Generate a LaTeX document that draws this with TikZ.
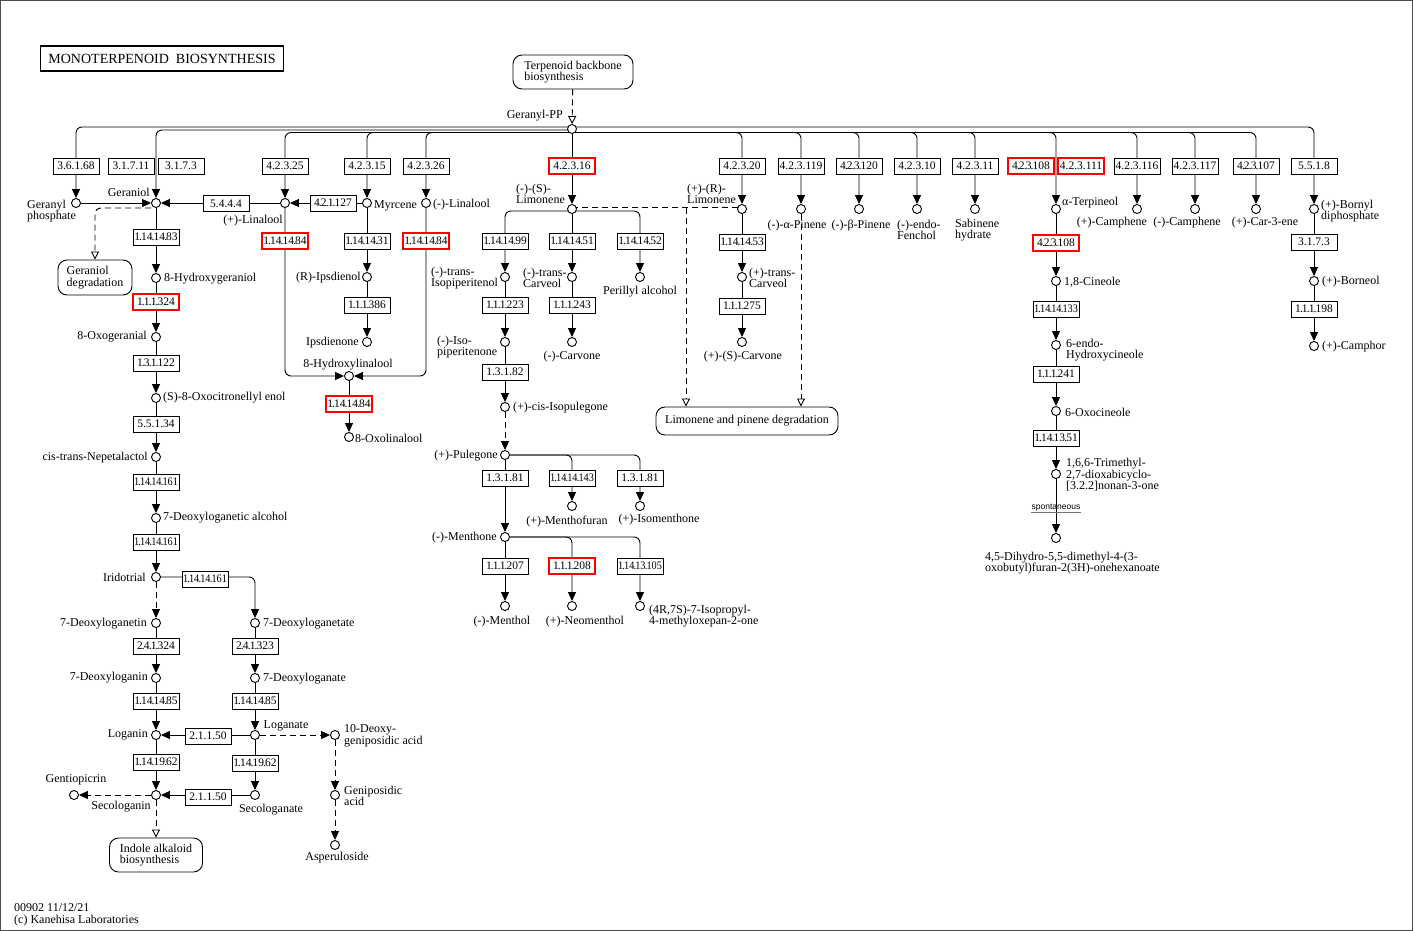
\documentclass[tikz,border=0pt]{standalone}
\usepackage{fontspec}
\usepackage{graphicx}
\setmainfont{Liberation Serif}
\setsansfont{Liberation Sans}
\usetikzlibrary{arrows.meta,calc}
\pgfdeclarelayer{bg}
\pgfsetlayers{bg,main}
\newsavebox\ecsave
\newcommand\ecdot{\kern-0.9pt.\kern-0.9pt}
\def\ecparse#1{\ifx#1\relax\else\ifx#1.\ecdot\else#1\fi\expandafter\ecparse\fi}
\newcommand\ectext[1]{\sbox\ecsave{#1}\ifdim\wd\ecsave>43pt\sbox\ecsave{\ecparse#1\relax}\fi\ifdim\wd\ecsave>44pt\pgfmathsetmacro\ecfac{44pt/\wd\ecsave}\scalebox{\ecfac}[1]{\usebox\ecsave}\else\usebox\ecsave\fi}
\newcommand\lf{\fontsize{12}{11.5}\selectfont}
\newcommand\ec[4]{\node[ecb] (#1) at (#2) {\ectext{#3}};}
\newcommand\ecr[3]{\node[ecb,draw=red,line width=1.8pt] (#1) at (#2) {\ectext{#3}};}
\tikzset{
  cpd/.style={circle,draw,fill=white,minimum size=9pt,inner sep=0pt,line width=0.9pt},
  ecb/.style={draw,fill=white,minimum width=46pt,minimum height=16pt,inner sep=0pt,line width=0.9pt,font=\fontsize{11.5}{12}\selectfont},
  lbl/.style={font=\lf,inner sep=0pt,align=left},
  rbox/.style={draw,fill=white,rounded corners=9pt,line width=0.9pt,inner sep=0pt,align=left,font=\lf},
  ln/.style={line width=0.9pt},
  rc/.style={rounded corners=6pt},
  dsh/.style={ln,dash pattern=on 6pt off 4pt},
  arr/.style={ln,-{Triangle[length=9pt,width=8pt]}},
  darr/.style={arr,dash pattern=on 6pt off 4pt},
  oarr/.style={dsh,-{Triangle[open,length=8pt,width=8pt]}},
}
\begin{document}
\begin{tikzpicture}[x=1pt,y=-1pt]
\useasboundingbox (0,0) rectangle (1413,931);
\draw[black!70,line width=0.9pt] (0.5,0.5) rectangle (1412.5,930.5);
% title
\node[draw,line width=1.8pt,minimum width=243pt,minimum height=25pt,inner sep=0pt,font=\fontsize{14}{14}\selectfont] (title) at (162,58.5) {MONOTERPENOID\ \ BIOSYNTHESIS};
% map boxes
\node[rbox,minimum width=120pt,minimum height=34pt] (tbb) at (573,72) {Terpenoid backbone\\biosynthesis};
\node[rbox,minimum width=74pt,minimum height=35pt] (gerdeg) at (95,277.5) {Geraniol\\degradation};
\node[rbox,minimum width=182pt,minimum height=28pt] (lpdeg) at (747,421) {Limonene and pinene degradation};
\node[rbox,minimum width=93pt,minimum height=34pt] (indole) at (156,855) {Indole alkaloid\\biosynthesis};
% compounds
\node[cpd] (gpp) at (572,129) {};
\node[cpd] (gphos) at (76,203) {};
\node[cpd] (geraniol) at (156,203) {};
\node[cpd] (plin) at (285,203) {};
\node[cpd] (myrcene) at (367,203) {};
\node[cpd] (mlin) at (426,203) {};
\node[cpd] (limS) at (572,209) {};
\node[cpd] (limR) at (742,209) {};
\node[cpd] (apin) at (801,209) {};
\node[cpd] (bpin) at (859,209) {};
\node[cpd] (fenchol) at (917,209) {};
\node[cpd] (sabinene) at (975,209) {};
\node[cpd] (terpineol) at (1056,209) {};
\node[cpd] (pcamph) at (1137,209) {};
\node[cpd] (mcamph) at (1195,209) {};
\node[cpd] (carene) at (1256,209) {};
\node[cpd] (bornyl) at (1314,209) {};
\node[cpd] (hger) at (156,278) {};
\node[cpd] (oxoger) at (156,337) {};
\node[cpd] (oxocit) at (156,398) {};
\node[cpd] (nepeta) at (156,457) {};
\node[cpd] (dlgalc) at (156,518) {};
\node[cpd] (iridotrial) at (156,577) {};
\node[cpd] (dlgtin) at (156,623) {};
\node[cpd] (dlgnin) at (156,678) {};
\node[cpd] (loganin) at (156,735) {};
\node[cpd] (secologanin) at (156,795) {};
\node[cpd] (gentio) at (74,795) {};
\node[cpd] (dlgtate) at (255,623) {};
\node[cpd] (dlgnate) at (255,678) {};
\node[cpd] (loganate) at (255,735) {};
\node[cpd] (secologanate) at (255,795) {};
\node[cpd] (deoxygen) at (335,735) {};
\node[cpd] (genipos) at (335,795) {};
\node[cpd] (asper) at (335,845) {};
\node[cpd] (ipsdienol) at (367,277) {};
\node[cpd] (ipsdienone) at (367,342) {};
\node[cpd] (hlin) at (349,376) {};
\node[cpd] (oxolin) at (349,437) {};
\node[cpd] (isopol) at (505,277) {};
\node[cpd] (tcarv) at (572,277) {};
\node[cpd] (perillyl) at (640,277) {};
\node[cpd] (isopone) at (505,342) {};
\node[cpd] (mcarvone) at (572,342) {};
\node[cpd] (cisiso) at (505,407) {};
\node[cpd] (pulegone) at (505,455) {};
\node[cpd] (menthofuran) at (572,506) {};
\node[cpd] (isomenthone) at (640,506) {};
\node[cpd] (menthone) at (505,537) {};
\node[cpd] (menthol) at (505,606) {};
\node[cpd] (neomenthol) at (572,606) {};
\node[cpd] (oxepanone) at (640,606) {};
\node[cpd] (ptcarv) at (742,277) {};
\node[cpd] (scarvone) at (742,342) {};
\node[cpd] (cineole) at (1056,281) {};
\node[cpd] (hcineole) at (1056,345) {};
\node[cpd] (oxocineole) at (1056,411) {};
\node[cpd] (trimethyl) at (1056,474) {};
\node[cpd] (dihydro) at (1056,538) {};
\node[cpd] (borneol) at (1314,281) {};
\node[cpd] (camphor) at (1314,346) {};
% enzyme boxes
\ec{e1}{76,166}{3.6.1.68}{}
\ec{e2}{131,166}{3.1.7.11}{}
\ec{e3}{181,166}{3.1.7.3}{}
\ec{e4}{285,166}{4.2.3.25}{}
\ec{e5}{367,166}{4.2.3.15}{}
\ec{e6}{426,166}{4.2.3.26}{}
\ecr{e7}{572,166}{4.2.3.16}
\ec{e8}{742,166}{4.2.3.20}{}
\ec{e9}{801,166}{4.2.3.119}{}
\ec{e10}{859,166}{4.2.3.120}{}
\ec{e11}{917,166}{4.2.3.10}{}
\ec{e12}{975,166}{4.2.3.11}{}
\ecr{e13}{1031,166}{4.2.3.108}
\ecr{e14}{1081,166}{4.2.3.111}
\ec{e15}{1137,166}{4.2.3.116}{}
\ec{e16}{1195,166}{4.2.3.117}{}
\ec{e17}{1256,166}{4.2.3.107}{}
\ec{e18}{1314,166}{5.5.1.8}{}
\ec{e19}{226,203.5}{5.4.4.4}{}
\ec{e20}{333,203}{4.2.1.127}{}
\ec{e21}{156,237}{1.14.14.83}{}
\ecr{e22}{156,302}{1.1.1.324}
\ec{e23}{156,363}{1.3.1.122}{}
\ec{e24}{156,424}{5.5.1.34}{}
\ec{e25}{156,482}{1.14.14.161}{}
\ec{e26}{156,542}{1.14.14.161}{}
\ec{e27}{205,579}{1.14.14.161}{}
\ec{e28}{156,646}{2.4.1.324}{}
\ec{e29}{156,701}{1.14.14.85}{}
\ec{e30}{208,736}{2.1.1.50}{}
\ec{e31}{156,762}{1.14.19.62}{}
\ec{e32}{208,797}{2.1.1.50}{}
\ec{e33}{255,646}{2.4.1.323}{}
\ec{e34}{255,701}{1.14.14.85}{}
\ec{e35}{255,763}{1.14.19.62}{}
\ecr{e36}{285,241}{1.14.14.84}
\ec{e37}{367,241}{1.14.14.31}{}
\ecr{e38}{426,241}{1.14.14.84}
\ec{e39}{367,305}{1.1.1.386}{}
\ecr{e40}{349,404}{1.14.14.84}
\ec{e41}{505,241}{1.14.14.99}{}
\ec{e42}{572,241}{1.14.14.51}{}
\ec{e43}{640,241}{1.14.14.52}{}
\ec{e44}{505,305}{1.1.1.223}{}
\ec{e45}{572,305}{1.1.1.243}{}
\ec{e46}{505,372}{1.3.1.82}{}
\ec{e47}{505,478}{1.3.1.81}{}
\ec{e48}{572,478}{1.14.14.143}{}
\ec{e49}{640,478}{1.3.1.81}{}
\ec{e50}{505,566}{1.1.1.207}{}
\ecr{e51}{572,566}{1.1.1.208}
\ec{e52}{640,566}{1.14.13.105}{}
\ec{e53}{742,242}{1.14.14.53}{}
\ec{e54}{742,306}{1.1.1.275}{}
\ecr{e55}{1056,243}{4.2.3.108}
\ec{e56}{1056,309}{1.14.14.133}{}
\ec{e57}{1056,374}{1.1.1.241}{}
\ec{e58}{1056,438}{1.14.13.51}{}
\ec{e59}{1314,242}{3.1.7.3}{}
\ec{e60}{1314,309}{1.1.1.198}{}
% labels
\node[lbl,anchor=east] (t1) at (563,116) {Geranyl-PP};
\node[lbl,anchor=west] (t2) at (27,211) {Geranyl\\phosphate};
\node[lbl,anchor=east] (t3) at (150,192) {Geraniol};
\node[lbl,anchor=east] (t4) at (283,221) {(+)-Linalool};
\node[lbl,anchor=west] (t5) at (374,206) {Myrcene};
\node[lbl,anchor=west] (t6) at (433,205) {(-)-Linalool};
\node[lbl,anchor=west] (t7) at (516,194) {(-)-(S)-\\Limonene};
\node[lbl,anchor=west] (t8) at (687,194) {(+)-(R)-\\Limonene};
\node[lbl] (t9) at (797,226) {(-)-α-Pinene};
\node[lbl] (t10) at (861,226) {(-)-β-Pinene};
\node[lbl,anchor=west] (t11) at (897,230) {(-)-endo-\\Fenchol};
\node[lbl,anchor=west] (t12) at (955,230) {Sabinene\\hydrate};
\node[lbl,anchor=west] (t13) at (1062,203) {α-Terpineol};
\node[lbl] (t14) at (1112,223) {(+)-Camphene};
\node[lbl] (t15) at (1187,223) {(-)-Camphene};
\node[lbl] (t16) at (1265,223) {(+)-Car-3-ene};
\node[lbl,anchor=west] (t17) at (1321,211) {(+)-Bornyl\\diphosphate};
\node[lbl,anchor=west] (t18) at (164,279) {8-Hydroxygeraniol};
\node[lbl,anchor=east] (t19) at (147,337) {8-Oxogeranial};
\node[lbl,anchor=west] (t20) at (163,398) {(S)-8-Oxocitronellyl enol};
\node[lbl,anchor=east] (t21) at (148,458) {cis-trans-Nepetalactol};
\node[lbl,anchor=west] (t22) at (163,518) {7-Deoxyloganetic alcohol};
\node[lbl,anchor=east] (t23) at (146,577) {Iridotrial};
\node[lbl,anchor=east] (t24) at (147,624) {7-Deoxyloganetin};
\node[lbl,anchor=east] (t25) at (148,678) {7-Deoxyloganin};
\node[lbl,anchor=east] (t26) at (148,735) {Loganin};
\node[lbl] (t27) at (121,807) {Secologanin};
\node[lbl] (t28) at (76,780) {Gentiopicrin};
\node[lbl,anchor=west] (t29) at (263,624) {7-Deoxyloganetate};
\node[lbl,anchor=west] (t30) at (263,679) {7-Deoxyloganate};
\node[lbl] (t31) at (286,726) {Loganate};
\node[lbl] (t32) at (271,810) {Secologanate};
\node[lbl,anchor=west] (t33) at (344,736) {10-Deoxy-\\geniposidic acid};
\node[lbl,anchor=west] (t34) at (344,796) {Geniposidic\\acid};
\node[lbl] (t35) at (337,858) {Asperuloside};
\node[lbl,anchor=east] (t36) at (361,278) {(R)-Ipsdienol};
\node[lbl,anchor=east] (t37) at (359,343) {Ipsdienone};
\node[lbl] (t38) at (348,365) {8-Hydroxylinalool};
\node[lbl,anchor=west] (t39) at (355,438) {8-Oxolinalool};
\node[lbl,anchor=west] (t40) at (431,278) {(-)-trans-\\Isopiperitenol};
\node[lbl,anchor=west] (t41) at (523,278) {(-)-trans-\\Carveol};
\node[lbl] (t42) at (640,292) {Perillyl alcohol};
\node[lbl,anchor=west] (t43) at (437,347) {(-)-Iso-\\piperitenone};
\node[lbl] (t44) at (572,357) {(-)-Carvone};
\node[lbl,anchor=west] (t45) at (513,408) {(+)-cis-Isopulegone};
\node[lbl,anchor=west] (t46) at (749,278) {(+)-trans-\\Carveol};
\node[lbl] (t47) at (743,357) {(+)-(S)-Carvone};
\node[lbl,anchor=east] (t48) at (498,456) {(+)-Pulegone};
\node[lbl] (t49) at (567,522) {(+)-Menthofuran};
\node[lbl] (t50) at (659,520) {(+)-Isomenthone};
\node[lbl,anchor=east] (t51) at (497,538) {(-)-Menthone};
\node[lbl] (t52) at (502,622) {(-)-Menthol};
\node[lbl] (t53) at (585,622) {(+)-Neomenthol};
\node[lbl,anchor=west] (t54) at (649,616) {(4R,7S)-7-Isopropyl-\\4-methyloxepan-2-one};
\node[lbl,anchor=west] (t55) at (1064,282) {1,8-Cineole};
\node[lbl,anchor=west] (t56) at (1066,350) {6-endo-\\Hydroxycineole};
\node[lbl,anchor=west] (t57) at (1065,412) {6-Oxocineole};
\node[lbl,anchor=west] (t58) at (1066,475) {1,6,6-Trimethyl-\\2,7-dioxabicyclo-\\{}[3.2.2]nonan-3-one};
\node[lbl,anchor=west] (t59) at (985,563) {4,5-Dihydro-5,5-dimethyl-4-(3-\\oxobutyl)furan-2(3H)-onehexanoate};
\node[lbl,anchor=west] (t60) at (1322,282) {(+)-Borneol};
\node[lbl,anchor=west] (t61) at (1322,347) {(+)-Camphor};
\node[lbl,anchor=west] (t62) at (14,915) {00902 11/12/21\\(c) Kanehisa Laboratories};
\node[inner sep=0.5pt,font=\sffamily\fontsize{8.5}{9}\selectfont] (sp) at (1056,508) {spontaneous};
\draw[black!55,line width=0.9pt] (sp.south west) -- (sp.south east);
% connectors
\begin{pgfonlayer}{bg}
\coordinate (gA) at (572,127);
\coordinate (gB) at (572,130);
\coordinate (gC) at (572,132.5);
\draw[oarr] (tbb) -- (gpp);
\draw[arr,rc] (gA) -| (gphos);
\draw[arr,rc] (gA) -| (bornyl);
\draw[arr,rc] (gB) -| (geraniol);
\foreach \t in {plin,myrcene,mlin,limR,apin,bpin,fenchol,sabinene,terpineol,pcamph,mcamph,carene}
  \draw[arr,rc] (gC) -| (\t);
\draw[arr] (gpp) -- (limS);
% geraniol row
\draw[arr] (gphos) -- (geraniol);
\draw[arr] (plin) -- (geraniol);
\draw[arr] (myrcene) -- (plin);
\coordinate (gdj) at (151,208);
\draw[oarr,rc] (gdj) -| (gerdeg);
% geraniol column
\draw[arr] (geraniol) -- (hger);
\draw[arr] (hger) -- (oxoger);
\draw[arr] (oxoger) -- (oxocit);
\draw[arr] (oxocit) -- (nepeta);
\draw[arr] (nepeta) -- (dlgalc);
\draw[arr] (dlgalc) -- (iridotrial);
\draw[darr] (iridotrial) -- (dlgtin);
\draw[arr,rc] (iridotrial) -| (dlgtate);
\draw[arr] (dlgtin) -- (dlgnin);
\draw[arr] (dlgnin) -- (loganin);
\draw[arr] (loganin) -- (secologanin);
\draw[arr] (dlgtate) -- (dlgnate);
\draw[arr] (dlgnate) -- (loganate);
\draw[arr] (loganate) -- (secologanate);
\draw[arr] (loganate) -- (loganin);
\draw[arr] (secologanate) -- (secologanin);
\draw[darr] (secologanin) -- (gentio);
\draw[oarr] (secologanin) -- (indole);
\draw[darr] (loganate) -- (deoxygen);
\draw[darr] (deoxygen) -- (genipos);
\draw[darr] (genipos) -- (asper);
% linalool
\draw[arr,rc] (plin) |- (hlin);
\draw[arr,rc] (mlin) |- (hlin);
\draw[arr] (hlin) -- (oxolin);
\draw[arr] (myrcene) -- (ipsdienol);
\draw[arr] (ipsdienol) -- (ipsdienone);
% (-)-limonene
\coordinate (lsj) at (572,211);
\draw[arr,rc] (lsj) -| (isopol);
\draw[arr,rc] (lsj) -| (perillyl);
\draw[arr] (limS) -- (tcarv);
\draw[arr] (isopol) -- (isopone);
\draw[arr] (tcarv) -- (mcarvone);
\draw[arr] (isopone) -- (cisiso);
\draw[darr] (cisiso) -- (pulegone);
\draw[arr] (pulegone) -- (menthone);
\draw[arr,rc] (pulegone) -| (menthofuran);
\draw[arr,rc] (pulegone) -| (isomenthone);
\draw[arr] (menthone) -- (menthol);
\draw[arr,rc] (menthone) -| (neomenthol);
\draw[arr,rc] (menthone) -| (oxepanone);
\coordinate (ldS) at (572,207.5);
\coordinate (ldR) at (742,207.5);
\coordinate (lpj) at (686,207.5);
\draw[dsh] (ldS) -- (ldR);
\draw[oarr] (lpj) -- (lpj |- lpdeg.north);
\draw[oarr] (apin) -- (apin |- lpdeg.north);
% (+)-limonene
\draw[arr] (limR) -- (ptcarv);
\draw[arr] (ptcarv) -- (scarvone);
% terpineol
\draw[arr] (terpineol) -- (cineole);
\draw[arr] (cineole) -- (hcineole);
\draw[arr] (hcineole) -- (oxocineole);
\draw[arr] (oxocineole) -- (trimethyl);
\draw[arr] (trimethyl) -- (dihydro);
% bornyl
\draw[arr] (bornyl) -- (borneol);
\draw[arr] (borneol) -- (camphor);
\end{pgfonlayer}
\end{tikzpicture}
\end{document}
